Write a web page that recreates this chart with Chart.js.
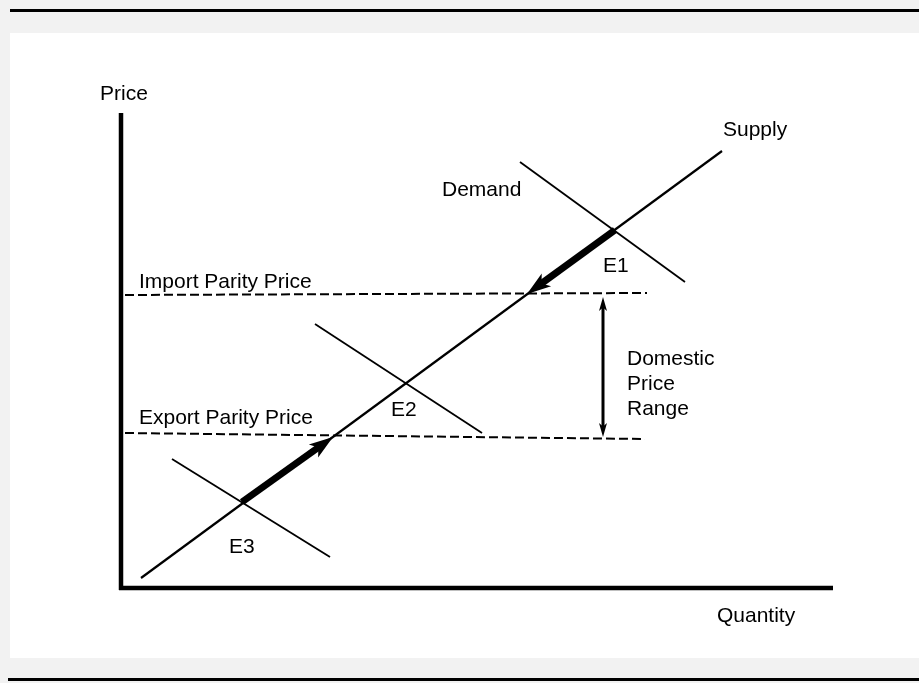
<!DOCTYPE html>
<html>
<head>
<meta charset="utf-8">
<title>Import / Export Parity Price</title>
<script src="https://cdn.jsdelivr.net/npm/chart.js@4.4.1/dist/chart.umd.min.js"></script>
<style>
  html, body { margin: 0; padding: 0; background: #f2f2f2; }
  canvas { display: block; }
</style>
</head>
<body>
<canvas id="chart" width="919" height="683"></canvas>
<script>
// Quantity (Q) / price (P) pairs, origin at the axis corner
const priceAxisQ = [0, 0];
const priceAxisP = [-2, 475];
const quantityAxisQ = [-2, 712];
const quantityAxisP = [0, 0];

const supplyQ = [20, 601];
const supplyP = [10, 437];

const demandE1Q = [399, 564];
const demandE1P = [426, 306];
const demandE2Q = [194, 361];
const demandE2P = [264, 155];
const demandE3Q = [51, 209];
const demandE3P = [129, 31];

const importParityQ = [4, 526];
const importParityP = [293, 295];
const exportParityQ = [4, 524];
const exportParityP = [155, 149];

// arrows along supply and the domestic range
const shiftDownQ = [494, 406];
const shiftDownP = [358, 294];
const shiftUpQ = [121, 212];
const shiftUpP = [86, 151];
const rangeQ = [482, 482];
const rangeP = [291, 151];

const labelText = ['Price', 'Supply', 'Demand', 'E1', 'Import Parity Price', 'Export Parity Price', 'E2', 'E3', 'Domestic', 'Price', 'Range', 'Quantity'];
const labelQ = [-21, 602, 321, 482, 18, 18, 270, 108, 506, 506, 506, 596];
const labelP = [494, 458, 398, 322, 306, 170, 178, 41, 229, 204, 179, -28];

function pts(qs, ps) {
    return qs.map((q, i) => ({ x: q, y: ps[i] }));
}

function line(data, width, extra) {
    return Object.assign({
        data: data,
        showLine: true,
        borderColor: '#000',
        backgroundColor: '#000',
        borderWidth: width,
        pointRadius: 0,
        pointHoverRadius: 0,
        tension: 0
    }, extra || {});
}

const FONT = '21px "Liberation Sans", Arial, sans-serif';

const framePlugin = {
    id: 'frame',
    beforeDraw(chart) {
        const c = chart.ctx;
        c.save();
        c.fillStyle = '#f2f2f2';
        c.fillRect(0, 0, chart.width, chart.height);
        c.fillStyle = '#ffffff';
        c.fillRect(10, 33, 909, 625);
        c.fillStyle = '#000';
        c.fillRect(10, 9, 909, 3);
        c.fillRect(8, 678, 911, 3);
        c.restore();
    }
};

// shafts and heads of arrow datasets, from the points the scales placed
const arrowPlugin = {
    id: 'arrows',
    afterDatasetsDraw(chart) {
        const c = chart.ctx;
        chart.data.datasets.forEach((ds, i) => {
            if (!ds.arrow) return;
            const p = chart.getDatasetMeta(i).data;
            const a = { x: p[0].x, y: p[0].y };
            const b = { x: p[1].x, y: p[1].y };
            const ang = Math.atan2(b.y - a.y, b.x - a.x);
            const L = ds.arrow.headLength, W = ds.arrow.headWidth;
            const back = L * 0.7;
            let s = { x: a.x, y: a.y }, e = { x: b.x - Math.cos(ang) * back, y: b.y - Math.sin(ang) * back };
            if (ds.arrow.both) {
                s = { x: a.x + Math.cos(ang) * back, y: a.y + Math.sin(ang) * back };
            }
            c.save();
            c.strokeStyle = '#000';
            c.fillStyle = '#000';
            c.lineWidth = ds.arrow.width;
            c.lineCap = 'butt';
            c.beginPath();
            c.moveTo(s.x, s.y);
            c.lineTo(e.x, e.y);
            c.stroke();
            const head = (tip, dir) => {
                c.beginPath();
                c.moveTo(tip.x, tip.y);
                c.lineTo(tip.x - Math.cos(dir) * L - Math.sin(dir) * W / 2, tip.y - Math.sin(dir) * L + Math.cos(dir) * W / 2);
                c.lineTo(tip.x - Math.cos(dir) * L * 0.75, tip.y - Math.sin(dir) * L * 0.75);
                c.lineTo(tip.x - Math.cos(dir) * L + Math.sin(dir) * W / 2, tip.y - Math.sin(dir) * L - Math.cos(dir) * W / 2);
                c.closePath();
                c.fill();
            };
            head(b, ang);
            if (ds.arrow.both) head(a, ang + Math.PI);
            c.restore();
        });
    }
};

const labelPlugin = {
    id: 'labels',
    afterDraw(chart) {
        const c = chart.ctx;
        const xs = chart.scales.x, ys = chart.scales.y;
        c.save();
        c.font = FONT;
        c.fillStyle = '#000';
        c.textAlign = 'left';
        c.textBaseline = 'middle';
        labelText.forEach((t, i) => {
            c.fillText(t, xs.getPixelForValue(labelQ[i]), ys.getPixelForValue(labelP[i]));
        });
        c.restore();
    }
};

const dash = [9, 4];

new Chart(document.getElementById('chart'), {
    type: 'scatter',
    data: {
        datasets: [
            line(pts(importParityQ, importParityP), 2, { borderDash: dash }),
            line(pts(exportParityQ, exportParityP), 2, { borderDash: dash }),
            line(pts(supplyQ, supplyP), 2.2),
            line(pts(demandE1Q, demandE1P), 1.8),
            line(pts(demandE2Q, demandE2P), 1.8),
            line(pts(demandE3Q, demandE3P), 1.8),
            line(pts(priceAxisQ, priceAxisP), 4.5),
            line(pts(quantityAxisQ, quantityAxisP), 4.5),
            line(pts(shiftDownQ, shiftDownP), 0, { showLine: false, arrow: { width: 7, headLength: 24, headWidth: 16 } }),
            line(pts(shiftUpQ, shiftUpP), 0, { showLine: false, arrow: { width: 7, headLength: 24, headWidth: 16 } }),
            line(pts(rangeQ, rangeP), 0, { showLine: false, arrow: { width: 3, headLength: 14, headWidth: 8, both: true } })
        ]
    },
    options: {
        responsive: false,
        animation: false,
        layout: { padding: 0 },
        plugins: { legend: { display: false }, tooltip: { enabled: false } },
        scales: {
            x: { type: 'linear', min: -121, max: 798, display: false },
            y: { type: 'linear', min: -95, max: 588, display: false }
        }
    },
    plugins: [framePlugin, arrowPlugin, labelPlugin]
});
</script>
</body>
</html>
